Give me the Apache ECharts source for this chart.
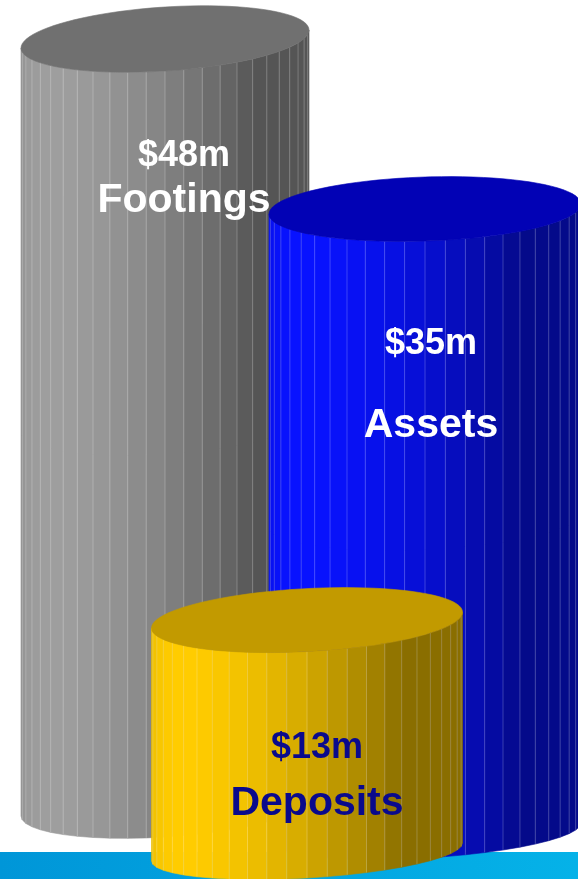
<!DOCTYPE html>
<html>
<head>
<meta charset="utf-8">
<script src="https://cdn.jsdelivr.net/npm/echarts@6/dist/echarts.min.js"></script>
<style>
  html, body { margin: 0; padding: 0; background: #fff; }
  #main { width: 578px; height: 879px; }
</style>
</head>
<body>
<div id="main"></div>
<script>
// categories left to right on the axis
const categories = ["Footings", "Deposits", "Assets"];
// drawing order: back to front
const names = ["Footings", "Assets", "Deposits"];
const values = [48, 35, 13];
const valueLabels = ["$48m", "$35m", "$13m"];

// look of each cylinder (same order as names)
const dxShift = [0, 0, 12];
const radiusX = [144, 156, 155.5];
const topRy = [32, 32, 31.5];
const bottomRy = [30, 26, 26];
const topShear = [9, 5, 8];
const bottomShear = [9, 9, 9];
const depthShift = [0, 25, 45];
const depthScale = [1, 1.1125, 1.115];
const sideColors = [[158, 158, 158], [8, 18, 255], [255, 204, 0]];
const topColors = ["#707070", "#0202b5", "#c29a00"];
const labelColors = ["#ffffff", "#ffffff", "#0a0a8c"];
const labelPos = [[19, 129, 176], [6, 147, 231], [10, 140, 198]]; // dx, value baseline, name baseline (from top centre)

const FACETS = 24;
const LIGHT = (142 * Math.PI) / 180;

const shade = (rgb, b) =>
  "rgb(" + rgb.map((c) => Math.round(Math.min(255, c * b))).join(",") + ")";

const renderCylinder = (params, api) => {
  const i = params.dataIndex;
  const cat = api.value(0);
  const v = api.value(1);
  const p0 = api.coord([cat, 0]);
  const p1 = api.coord([cat, v]);
  const cx = p0[0] + dxShift[i];
  const baseY = p0[1] + depthShift[i];
  const topY = baseY - (p0[1] - p1[1]) * depthScale[i];
  const rx = radiusX[i];
  const up = (t) => [cx + rx * Math.cos(t), topY + topRy[i] * Math.sin(t) - topShear[i] * Math.cos(t)];
  const down = (t) => [cx + rx * Math.cos(t), baseY + bottomRy[i] * Math.sin(t) - bottomShear[i] * Math.cos(t)];

  const children = [];
  for (let k = 0; k < FACETS; k++) {
    const t1 = (Math.PI * k) / FACETS;
    const t2 = (Math.PI * (k + 1)) / FACETS;
    const tm = (t1 + t2) / 2;
    const b = 0.54 + 0.46 * Math.max(0, Math.cos(tm - LIGHT));
    const c = shade(sideColors[i], b);
    children.push({
      type: "polygon",
      shape: { points: [up(t1), up(t2), down(t2), down(t1)] },
      style: { fill: c, stroke: c, lineWidth: 0.6 },
    });
  }
  for (let k = 1; k < FACETS; k++) {
    const t = (Math.PI * k) / FACETS;
    const a = up(t);
    const b = down(t);
    children.push({
      type: "line",
      shape: { x1: a[0], y1: a[1], x2: b[0], y2: b[1] },
      style: { stroke: "rgba(255,255,255,0.22)", lineWidth: 1 },
    });
  }
  const top = [];
  for (let k = 0; k < 90; k++) top.push(up((2 * Math.PI * k) / 90));
  children.push({
    type: "polygon",
    shape: { points: top },
    style: { fill: topColors[i], stroke: topColors[i], lineWidth: 0.6 },
  });

  const lp = labelPos[i];
  children.push({
    type: "text",
    style: {
      text: valueLabels[i],
      x: cx + lp[0],
      y: topY + lp[1] - 0.34 * 36,
      align: "center",
      verticalAlign: "middle",
      font: 'bold 36px "Liberation Sans", Arial, sans-serif',
      fill: labelColors[i],
    },
  });
  children.push({
    type: "text",
    style: {
      text: names[i],
      x: cx + lp[0],
      y: topY + lp[2] - 0.34 * 41,
      align: "center",
      verticalAlign: "middle",
      font: 'bold 41px "Liberation Sans", Arial, sans-serif',
      fill: labelColors[i],
    },
  });
  return { type: "group", children };
};

const chart = echarts.init(document.getElementById("main"));
const option = {
  animation: false,
  grid: { left: 100, right: 88, top: 39, bottom: 72 },
  xAxis: { type: "category", data: categories, show: false },
  yAxis: { type: "value", min: 0, max: Math.max(...values), show: false },
  graphic: [
    {
      type: "rect",
      left: 0,
      top: 852,
      shape: { width: 578, height: 27 },
      style: {
        fill: new echarts.graphic.LinearGradient(0, 0, 1, 0, [
          { offset: 0, color: "#0096d8" },
          { offset: 1, color: "#05b2e8" },
        ]),
      },
    },
  ],
  series: [
    {
      type: "custom",
      renderItem: renderCylinder,
      data: names.map((n, i) => [categories.indexOf(n), values[i]]),
    },
  ],
};
chart.setOption(option);
</script>
</body>
</html>
